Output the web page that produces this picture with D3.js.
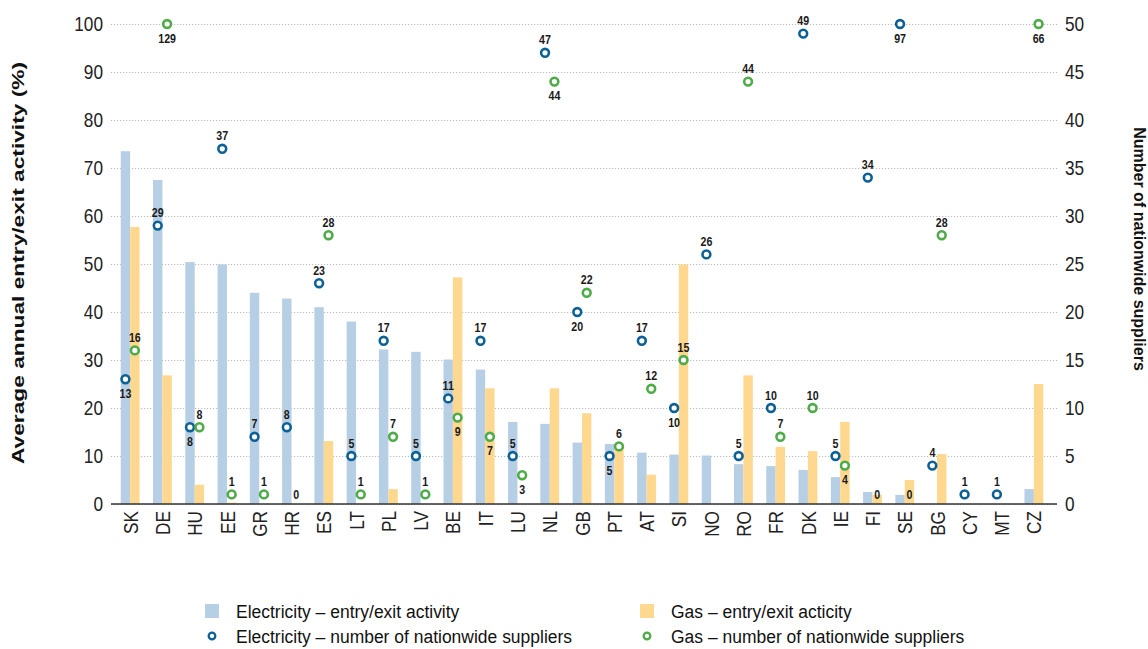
<!DOCTYPE html>
<html>
<head>
<meta charset="utf-8">
<script src="https://cdn.jsdelivr.net/npm/d3@7"></script>
<style>
  body { margin: 0; background: #fff; }
  svg { display: block; }
</style>
</head>
<body>
<svg></svg>
<script>
// countries in chart order
const countries = ["SK","DE","HU","EE","GR","HR","ES","LT","PL","LV","BE","IT","LU","NL","GB",
                   "PT","AT","SI","NO","RO","FR","DK","IE","FI","SE","BG","CY","MT","CZ"];

// average annual entry/exit activity (%)
const elecActivity = [73.5,67.5,50.4,49.9,44.0,42.8,41.0,38.0,32.2,31.7,30.1,28.0,17.1,16.7,12.8,
                      12.5,10.7,10.3,10.1,8.3,7.9,7.1,5.6,2.5,1.9,0,0,0,3.1];
const gasActivity  = [57.7,26.8,4.0,0.3,0,0,13.1,0,3.1,0,47.2,24.1,0,24.1,18.9,
                      12.0,6.1,49.9,0,26.8,11.9,11.0,17.1,1.9,5.0,10.4,0,0,25.0];

// number of nationwide suppliers (null = no data)
const elecSuppliers = [13,29,8,37,7,8,23,5,17,5,11,17,5,47,20,
                       5,17,10,26,5,10,49,5,34,97,4,1,1,null];
const gasSuppliers  = [16,129,8,1,1,0,28,1,7,1,9,7,3,44,22,
                       6,12,15,null,44,7,10,4,0,0,28,null,null,66];

// where the value label sits relative to the marker: a = above, b = below
const elecLabelPos = ["b","a","b","a","a","a","a","a","a","a","a","a","a","a","b",
                      "b","a","b","a","a","a","a","a","a","b","a","a","a","a"];
const gasLabelPos  = ["a","b","a","a","a","a","a","a","a","a","b","b","b","b","a",
                      "a","a","a","a","a","a","a","b","a","a","a","a","a","b"];

const leftTicks  = d3.range(0, 101, 10);
const rightTicks = d3.range(0, 51, 5);

const legendItems = [
  { text: "Electricity \u2013 entry/exit activity", kind: "bar", color: "#b7cfe4" },
  { text: "Gas \u2013 entry/exit acticity", kind: "bar", color: "#fed88e" },
  { text: "Electricity \u2013 number of nationwide suppliers", kind: "dot", color: "#0b6096" },
  { text: "Gas \u2013 number of nationwide suppliers", kind: "dot", color: "#4dab48" }
];

const W = 1148, H = 649;
const sans = "'Liberation Sans', Arial, sans-serif";
const SQ = 0.82;   // horizontal squeeze to get an Arial Narrow look
const ELEC_BAR = "#b7cfe4", GAS_BAR = "#fed88e", ELEC_DOT = "#0b6096", GAS_DOT = "#4dab48";

const svg = d3.select("svg").attr("width", W).attr("height", H);

const plotL = 111, plotR = 1057, plotT = 24, plotB = 504;

const x = d3.scaleBand().domain(countries).range([114, 1050]);
const yL = d3.scaleLinear().domain([0, 100]).range([plotB, plotT]);
const yR = d3.scaleLinear().domain([0, 50]).range([plotB, plotT]);
const barW = 9.4;

// left axis + gridlines
const gl = svg.append("g")
  .attr("transform", "translate(" + plotL + ",0)")
  .call(d3.axisLeft(yL).tickValues(leftTicks).tickSize(-(plotR - plotL)).tickPadding(0));
gl.select(".domain").remove();
gl.selectAll(".tick line")
  .attr("stroke", "#bcbcbc")
  .attr("stroke-dasharray", "1.2,1.8")
  .attr("stroke-width", 1);
gl.selectAll(".tick text")
  .attr("font-family", sans).attr("font-size", 21).attr("fill", "#222")
  .attr("x", 0)
  .attr("transform", "translate(-8,0) scale(" + SQ + ",1)");

// right axis
const gr = svg.append("g")
  .attr("transform", "translate(" + plotR + ",0)")
  .call(d3.axisRight(yR).tickValues(rightTicks).tickSize(0).tickPadding(0));
gr.select(".domain").remove();
gr.selectAll(".tick text")
  .attr("font-family", sans).attr("font-size", 21).attr("fill", "#222")
  .attr("x", 0)
  .attr("transform", "translate(8,0) scale(" + SQ + ",1)");

// bars
const bars = svg.append("g");
bars.selectAll("rect.elec")
  .data(countries)
  .enter().append("rect")
  .attr("x", d => x(d) + x.bandwidth() / 2 - barW)
  .attr("y", (d, i) => yL(elecActivity[i]))
  .attr("width", barW)
  .attr("height", (d, i) => plotB - yL(elecActivity[i]))
  .attr("fill", ELEC_BAR);
bars.selectAll("rect.gas")
  .data(countries)
  .enter().append("rect")
  .attr("x", d => x(d) + x.bandwidth() / 2)
  .attr("y", (d, i) => yL(gasActivity[i]))
  .attr("width", barW)
  .attr("height", (d, i) => plotB - yL(gasActivity[i]))
  .attr("fill", GAS_BAR);

// x axis
const gx = svg.append("g")
  .attr("transform", "translate(0," + plotB + ")")
  .call(d3.axisBottom(x).tickSize(0).tickPadding(0));
gx.select(".domain").remove();
gx.selectAll(".tick text")
  .attr("font-family", sans).attr("font-size", 21).attr("fill", "#222")
  .attr("transform", "rotate(-90) translate(-7,0) scale(" + SQ + ",1)")
  .attr("text-anchor", "end")
  .attr("x", 0).attr("y", 0).attr("dy", "0.36em");
svg.append("line")
  .attr("x1", plotL).attr("x2", plotR)
  .attr("y1", plotB).attr("y2", plotB)
  .attr("stroke", "#333").attr("stroke-width", 1.3);

// supplier markers; values above 50 sit on the top line
function add_markers(values, positions, offset, color) {
  const g = svg.append("g");
  const pts = countries.map((c, i) => ({ c, v: values[i], pos: positions[i] }))
                       .filter(p => p.v !== null);
  const cx = p => x(p.c) + x.bandwidth() / 2 + offset;
  const cy = p => yR(Math.min(p.v, 50));

  g.selectAll("circle")
    .data(pts.filter(p => p.v > 0))
    .enter().append("circle")
    .attr("cx", cx).attr("cy", cy).attr("r", 3.9)
    .attr("fill", "#fff").attr("stroke", color).attr("stroke-width", 2.6);

  g.selectAll("text")
    .data(pts)
    .enter().append("text")
    .attr("transform", function(p) {
      let ty = p.v === 0 ? plotB - 5 : (p.pos === "a" ? cy(p) - 8.5 : cy(p) + 18.5);
      return "translate(" + cx(p) + "," + ty + ") scale(" + SQ + ",1)";
    })
    .attr("text-anchor", "middle")
    .attr("font-family", sans).attr("font-size", 13).attr("font-weight", "bold")
    .attr("fill", "#1a1a1a")
    .text(p => p.v);
}
add_markers(elecSuppliers, elecLabelPos, -barW / 2, ELEC_DOT);
add_markers(gasSuppliers, gasLabelPos, barW / 2, GAS_DOT);

// axis titles
svg.append("text")
  .attr("transform", "translate(24," + 263 + ") rotate(-90)")
  .attr("text-anchor", "middle")
  .attr("font-family", sans)
  .attr("font-size", 17).attr("font-weight", "bold").attr("fill", "#111")
  .attr("textLength", 402).attr("lengthAdjust", "spacingAndGlyphs")
  .text("Average annual entry/exit activity (%)");
svg.append("text")
  .attr("transform", "translate(1134," + 249 + ") rotate(90)")
  .attr("text-anchor", "middle")
  .attr("font-family", sans)
  .attr("font-size", 16).attr("font-weight", "bold").attr("fill", "#111")
  .text("Number of nationwide suppliers");

// legend
const leg = svg.append("g");
const legX = [205, 640], legY = [611, 636];
legendItems.forEach(function(item, i) {
  const lx = legX[i % 2], ly = legY[Math.floor(i / 2)];
  if (item.kind === "bar") {
    leg.append("rect").attr("x", lx).attr("y", ly - 7).attr("width", 14).attr("height", 14)
       .attr("fill", item.color);
  } else {
    leg.append("circle").attr("cx", lx + 7).attr("cy", ly).attr("r", 3.3)
       .attr("fill", "#fff").attr("stroke", item.color).attr("stroke-width", 2.3);
  }
  leg.append("text")
     .attr("transform", "translate(" + (lx + 31) + "," + ly + ") scale(0.92,1)")
     .attr("dy", "0.36em")
     .attr("font-family", sans).attr("font-size", 19).attr("fill", "#111")
     .text(item.text);
});
</script>
</body>
</html>
